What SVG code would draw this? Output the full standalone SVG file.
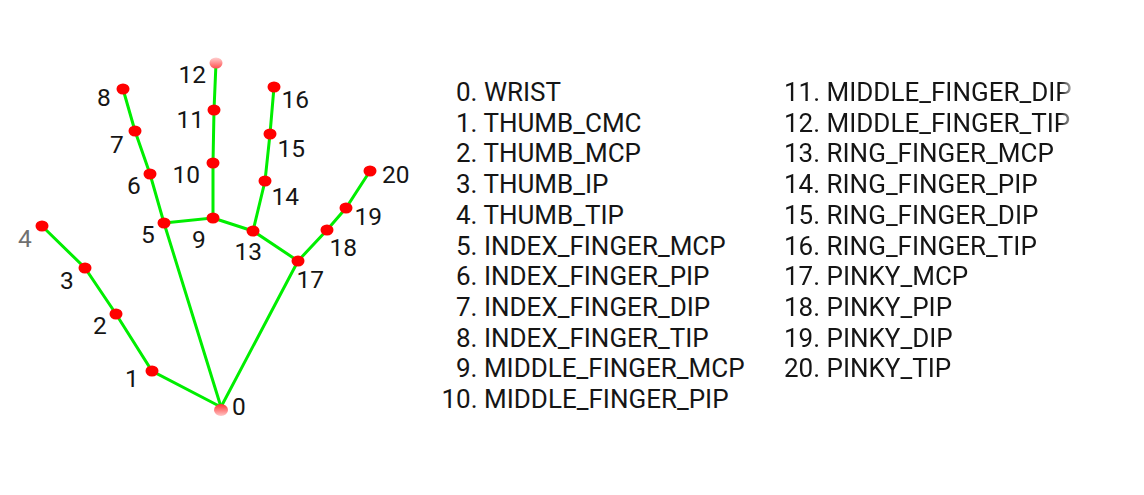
<svg xmlns="http://www.w3.org/2000/svg" width="1144" height="495" viewBox="0 0 1144 495">
<style>
.bone{stroke:#00ee00;stroke-width:3;fill:none;stroke-linecap:round}
.pt{fill:#ff0000}
.lbl{font-family:Roboto,"Liberation Sans",sans-serif;font-size:24.5px;fill:#151515}
.lst{font-family:Roboto,"Liberation Sans",sans-serif;font-size:26px;fill:#151515}
</style>
<defs>
<linearGradient id="fadeTop" x1="0" y1="0" x2="0" y2="1">
<stop offset="0" stop-color="#ffd0d0"/><stop offset="1" stop-color="#ff5050"/>
</linearGradient>
<linearGradient id="fadeBot" x1="0" y1="0" x2="0" y2="1">
<stop offset="0" stop-color="#ff3030"/><stop offset="1" stop-color="#ffc8c8"/>
</linearGradient>
<linearGradient id="fadeRight" gradientUnits="userSpaceOnUse" x1="1060" y1="0" x2="1078" y2="0">
<stop offset="0" stop-color="#fff"/><stop offset="1" stop-color="#000"/>
</linearGradient>
<mask id="clipRight"><rect x="0" y="0" width="1144" height="495" fill="url(#fadeRight)"/></mask>
</defs>
<rect width="1144" height="495" fill="#ffffff"/>
<g id="connectors">
<polyline class="bone" points="221,407 152,371 116,314 85,268 42,226"/>
<polyline class="bone" points="221,407 164,223 150,174 135,131 123,89"/>
<polyline class="bone" points="164,223 213,218 213,163 214,110 216,63"/>
<polyline class="bone" points="213,218 253,231 265,181 270,134 274,87"/>
<polyline class="bone" points="253,231 298,261 327,230 346,208 370,171"/>
<line class="bone" x1="221" y1="407" x2="298" y2="261"/>
</g>
<g id="n0"><ellipse cx="221" cy="410" rx="7" ry="6" fill="url(#fadeBot)"/><text class="lbl" x="232" y="415">0</text></g>
<g id="n1"><ellipse class="pt" cx="152" cy="371" rx="6.5" ry="5.5"/><text class="lbl" x="125" y="387">1</text></g>
<g id="n2"><ellipse class="pt" cx="116" cy="314" rx="6.5" ry="5.5"/><text class="lbl" x="93" y="334">2</text></g>
<g id="n3"><ellipse class="pt" cx="85" cy="268" rx="6.5" ry="5.5"/><text class="lbl" x="60" y="289">3</text></g>
<g id="n4"><ellipse class="pt" cx="42" cy="226" rx="6.5" ry="5.5"/><text class="lbl" x="18" y="247" style="fill:#707070">4</text></g>
<g id="n5"><ellipse class="pt" cx="164" cy="223" rx="6.5" ry="5.5"/><text class="lbl" x="141" y="243">5</text></g>
<g id="n6"><ellipse class="pt" cx="150" cy="174" rx="6.5" ry="5.5"/><text class="lbl" x="127" y="194">6</text></g>
<g id="n7"><ellipse class="pt" cx="135" cy="131" rx="6.5" ry="5.5"/><text class="lbl" x="110" y="153">7</text></g>
<g id="n8"><ellipse class="pt" cx="123" cy="89" rx="6.5" ry="5.5"/><text class="lbl" x="97" y="106">8</text></g>
<g id="n9"><ellipse class="pt" cx="213" cy="218" rx="6.5" ry="5.5"/><text class="lbl" x="192" y="248">9</text></g>
<g id="n10"><ellipse class="pt" cx="213" cy="163" rx="6.5" ry="5.5"/><text class="lbl" x="172.5" y="183">10</text></g>
<g id="n11"><ellipse class="pt" cx="214" cy="110" rx="6.5" ry="5.5"/><text class="lbl" x="176.5" y="128">11</text></g>
<g id="n12"><ellipse cx="216" cy="63" rx="6.5" ry="5.5" fill="url(#fadeTop)"/><text class="lbl" x="178.5" y="83">12</text></g>
<g id="n13"><ellipse class="pt" cx="253" cy="231" rx="6.5" ry="5.5"/><text class="lbl" x="234.5" y="260">13</text></g>
<g id="n14"><ellipse class="pt" cx="265" cy="181" rx="6.5" ry="5.5"/><text class="lbl" x="271.5" y="205">14</text></g>
<g id="n15"><ellipse class="pt" cx="270" cy="134" rx="6.5" ry="5.5"/><text class="lbl" x="277.5" y="157">15</text></g>
<g id="n16"><ellipse class="pt" cx="274" cy="87" rx="6.5" ry="5.5"/><text class="lbl" x="281.5" y="108">16</text></g>
<g id="n17"><ellipse class="pt" cx="298" cy="261" rx="6.5" ry="5.5"/><text class="lbl" x="296.5" y="288">17</text></g>
<g id="n18"><ellipse class="pt" cx="327" cy="230" rx="6.5" ry="5.5"/><text class="lbl" x="329.5" y="256">18</text></g>
<g id="n19"><ellipse class="pt" cx="346" cy="208" rx="6.5" ry="5.5"/><text class="lbl" x="354.5" y="225">19</text></g>
<g id="n20"><ellipse class="pt" cx="370" cy="171" rx="6.5" ry="5.5"/><text class="lbl" x="382" y="183">20</text></g>
<g id="legend-left">
<text class="lst" x="456" y="101">0. WRIST</text>
<text class="lst" x="456" y="131.7">1. THUMB_CMC</text>
<text class="lst" x="456" y="162.4">2. THUMB_MCP</text>
<text class="lst" x="456" y="193.1">3. THUMB_IP</text>
<text class="lst" x="456" y="223.8">4. THUMB_TIP</text>
<text class="lst" x="456" y="254.5">5. INDEX_FINGER_MCP</text>
<text class="lst" x="456" y="285.2">6. INDEX_FINGER_PIP</text>
<text class="lst" x="456" y="315.9">7. INDEX_FINGER_DIP</text>
<text class="lst" x="456" y="346.6">8. INDEX_FINGER_TIP</text>
<text class="lst" x="456" y="377.3">9. MIDDLE_FINGER_MCP</text>
<text class="lst" x="441.5" y="408">10. MIDDLE_FINGER_PIP</text>
</g>
<g id="legend-right" mask="url(#clipRight)">
<text class="lst" x="784" y="101">11. MIDDLE_FINGER_DIP</text>
<text class="lst" x="784" y="131.7">12. MIDDLE_FINGER_TIP</text>
<text class="lst" x="784" y="162.4">13. RING_FINGER_MCP</text>
<text class="lst" x="784" y="193.1">14. RING_FINGER_PIP</text>
<text class="lst" x="784" y="223.8">15. RING_FINGER_DIP</text>
<text class="lst" x="784" y="254.5">16. RING_FINGER_TIP</text>
<text class="lst" x="784" y="285.2">17. PINKY_MCP</text>
<text class="lst" x="784" y="315.9">18. PINKY_PIP</text>
<text class="lst" x="784" y="346.6">19. PINKY_DIP</text>
<text class="lst" x="784" y="377.3">20. PINKY_TIP</text>
</g>
</svg>
